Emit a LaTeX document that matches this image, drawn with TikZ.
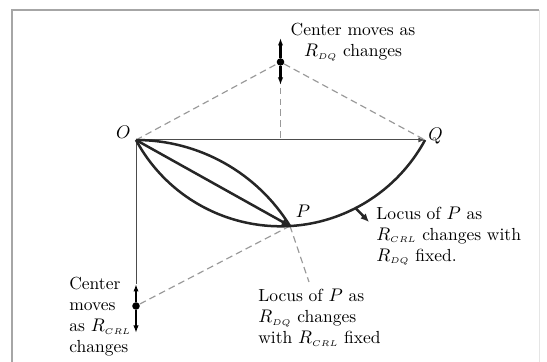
\documentclass[tikz,border=0pt]{standalone}
\usetikzlibrary{arrows.meta}
\newcommand{\Rsub}[1]{$R_{\scriptscriptstyle #1}$}
\begin{document}
\begin{tikzpicture}[x=0.6pt,y=0.6pt,
        locus/.style={black!85, line width=1.5pt},
        guide/.style={gray!80, line width=0.7pt, dash pattern=on 4pt off 2.5pt},
        thin line/.style={black!70, line width=0.6pt},
        shift arrow/.style={black, line width=1.3pt, -{Latex[length=4.5pt,width=3.2pt]}},
        dot/.style={circle, fill=black, inner sep=1.6pt},
        lbl/.style={font=\fontsize{10.5}{12.6}\selectfont, inner sep=0pt, align=left}]
        \useasboundingbox (0,0) rectangle (547,362);

        % Frame of the page.
        \draw[gray!70, line width=0.8pt] (12,0) -- (12,352) -- (539,352);
        \draw[gray!20, line width=0.6pt] (539,352) -- (539,0);

        % Main points.
        \coordinate (O) at (136,222);
        \coordinate (Q) at (425,222);
        \coordinate (P) at (290,136);
        \coordinate (M) at (280.5,222);
        \node[dot] (C1) at (280.5,300) {};
        \node[dot] (C2) at (136,56) {};
        \coordinate (C1up)   at (280.5,324);
        \coordinate (C1down) at (280.5,277);
        \coordinate (C2up)   at (136,78);
        \coordinate (C2down) at (136,29);
        \coordinate (E) at (309,80);
        \coordinate (A) at (355.5,154);
        \coordinate (T) at (369,140);

        % Construction lines to the centres.
        \draw[guide] (O) -- (C1) -- (Q);
        \draw[guide] (C1) -- (M);
        \draw[guide] (P) -- (C2);
        \draw[guide] (P) -- (E);
        \draw[thin line] (O) -- (C2up);
        \draw[thin line, -{Latex[length=4pt,width=3pt]}] (O) -- (Q);

        % The two loci through P.
        \draw[locus] (O) arc[start angle=208.33, end angle=331.67, radius=164.2];
        \draw[locus] (O) arc[start angle=90, end angle=31.64, radius=180.9];
        \draw[locus, -{Latex[length=5pt,width=4pt]}] (O) -- (P);

        % Moving centres.
        \draw[shift arrow] (C1) -- (C1up);
        \draw[shift arrow] (C1) -- (C1down);
        \draw[shift arrow] (C2) -- (C2up);
        \draw[shift arrow] (C2) -- (C2down);
        \draw[locus, -{Latex[length=5pt,width=4.5pt]}] (A) -- (T);

        % Labels.
        \node[lbl, anchor=east] (Olbl) at (131,230) {$O$};
        \node[lbl, anchor=west] (Qlbl) at (428,226) {$Q$};
        \node[lbl] (Plbl) at (303,151) {$P$};
        \node[lbl, align=center] (topLbl) at (353,320)
            {Center moves as\\\Rsub{DQ} changes};
        \node[lbl, anchor=west] (rightLbl) at (376,126)
            {Locus of $P$ as\\\Rsub{CRL} changes with\\\Rsub{DQ} fixed.};
        \node[lbl, anchor=west] (bottomLbl) at (258,44)
            {Locus of $P$ as\\\Rsub{DQ} changes\\with \Rsub{CRL} fixed};
        \node[lbl, anchor=west] (leftLbl) at (69,45)
            {Center\\moves\\as \Rsub{CRL}\\changes};
    \end{tikzpicture}
\end{document}
